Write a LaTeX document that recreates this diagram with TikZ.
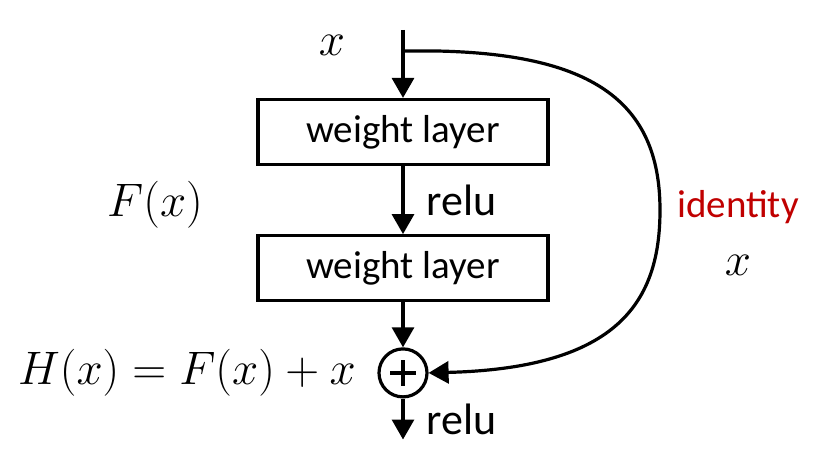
\RequirePackage{fix-cm}
\documentclass[tikz,border=0pt]{standalone}
\usepackage{fontspec}
\setmainfont{Carlito}
\usepackage{xcolor}
\usepackage{tikz}
\usetikzlibrary{arrows.meta,positioning}
\definecolor{idred}{HTML}{C00000}

\begin{document}
\begin{tikzpicture}[
  x=0.5pt, y=-0.5pt,
  line width=1.6pt,
  font=\fontsize{19.5}{23}\selectfont,
  box/.style={draw, minimum width=145pt, minimum height=32.5pt, inner sep=0pt},
  arr/.style={-{Triangle[length=10pt,width=11pt]}},
  relulbl/.style={font=\fontsize{22}{26}\selectfont, inner sep=0pt},
  mathlbl/.style={font=\fontsize{23.5}{28}\selectfont, inner sep=0pt},
  sumnode/.style={draw, circle, minimum size=24pt, inner sep=0pt,
    path picture={
      \draw[line width=1.8pt] ([xshift=-6.5pt]path picture bounding box.center) -- ([xshift=6.5pt]path picture bounding box.center);
      \draw[line width=1.8pt] ([yshift=-6.5pt]path picture bounding box.center) -- ([yshift=6.5pt]path picture bounding box.center);
    }}
]
\useasboundingbox (0,0) rectangle (815,461);
\node[box] (box1) at (403,132) {weight layer};
\node[box, below=34pt of box1] (box2) {weight layer};
\node[sumnode, below=22.5pt of box2] (sum) {};
\coordinate[above=34pt of box1.north] (in);
\coordinate[below=10.5pt of in] (branch);
\coordinate[below=20.5pt of sum.south] (out);

% main path
\draw[arr] (in) -- (box1);
\draw[arr] (box1) -- node[relulbl, right=11pt] {relu} (box2);
\draw[arr] (box2) -- (sum);
\draw[arr] (sum) -- node[relulbl, right=11pt] {relu} (out);

% shortcut
\draw[arr] (branch) -- ++(28,0) .. controls (590,53) and (660,100) .. (660,210)
  .. controls (660,300) and (620,368) .. (sum.east);

% labels
\node[mathlbl] (xin) at (332,45) {$x$};
\node[mathlbl] (fx) at (155,205) {$F(x)$};
\node[mathlbl, left=10pt of sum] (hx) {$H(x)=F(x)+x$};
\node[text=idred] (ident) at (738,207) {identity};
\node[mathlbl] (xid) at (738,265) {$x$};
\end{tikzpicture}
\end{document}
